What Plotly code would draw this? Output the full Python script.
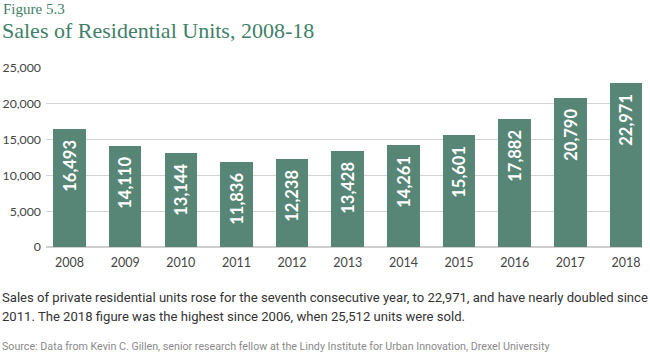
import plotly.graph_objects as go

years = ["2008", "2009", "2010", "2011", "2012", "2013", "2014", "2015", "2016", "2017", "2018"]
sales = [16493, 14110, 13144, 11836, 12238, 13428, 14261, 15601, 17882, 20790, 22971]
y_ticks = [0, 5000, 10000, 15000, 20000, 25000]
y_tick_labels = ["0", "5,000", "10,000", "15,000", "20,000", "25,000"]

W, H = 650, 353
L, R, T, B = 46, 8, 68, 106

def px(x):
    return (x - L) / (W - L - R)

def py(y):
    return (H - B - y) / (H - T - B)

bar_color = "#578676"
title_color = "#3f7f69"

fig = go.Figure()
fig.add_trace(go.Bar(
    x=list(range(len(years))),
    y=sales,
    width=0.584,
    marker=dict(color=bar_color, line=dict(width=0)),
    text=[f"{v:,}" + "\u00a0\u00a0" for v in sales],
    textposition="inside",
    insidetextanchor="end",
    textangle=-90,
    textfont=dict(family="Lato", size=16.5, color="white", weight="bold"),
    cliponaxis=False,
    hoverinfo="skip",
))

annotations = [
    dict(text="Figure 5.3", x=px(1), y=py(9), xanchor="left", yanchor="middle",
         font=dict(family="Liberation Serif", size=15, color=title_color)),
    dict(text="Sales of Residential Units, 2008-18", x=px(0), y=py(31), xanchor="left", yanchor="middle",
         font=dict(family="Liberation Serif", size=22, color=title_color)),
    dict(text="Sales of private residential units rose for the seventh consecutive year, to 22,971, and have nearly doubled since",
         x=px(0), y=py(297), xanchor="left", yanchor="middle",
         font=dict(family="Roboto", size=13.1, color="#333333")),
    dict(text="2011. The 2018 figure was the highest since 2006, when 25,512 units were sold.",
         x=px(0), y=py(316), xanchor="left", yanchor="middle",
         font=dict(family="Roboto", size=13.1, color="#333333")),
    dict(text="Source: Data from Kevin C. Gillen, senior research fellow at the Lindy Institute for Urban Innovation, Drexel University",
         x=px(0), y=py(346), xanchor="left", yanchor="middle",
         font=dict(family="Roboto", size=10.7, color="#8a8a8a")),
]
for a in annotations:
    a.update(xref="paper", yref="paper", showarrow=False)

fig.update_layout(
    width=W, height=H,
    margin=dict(l=L, r=R, t=T, b=B, pad=0, autoexpand=False),
    paper_bgcolor="white", plot_bgcolor="white",
    showlegend=False,
    bargap=0,
    annotations=annotations,
    xaxis=dict(
        range=[-0.422, 10.2875],
        tickmode="array", tickvals=list(range(len(years))), ticktext=years,
        showgrid=False, zeroline=False, showline=False,
        ticks="", ticklabelstandoff=6, automargin=False,
        tickfont=dict(family="Lato", size=12.5, color="#444444"),
        fixedrange=True,
    ),
    yaxis=dict(
        range=[0, 25000],
        tickmode="array", tickvals=y_ticks, ticktext=y_tick_labels,
        showgrid=True, gridcolor="#d3d3d3", gridwidth=1.3,
        zeroline=True, zerolinecolor="#cfcfcf", zerolinewidth=1.5,
        showline=False, ticks="", ticklabelstandoff=4, automargin=False,
        tickfont=dict(family="Lato", size=12.3, color="#444444"),
        fixedrange=True,
    ),
)

fig.write_html("out.html")
